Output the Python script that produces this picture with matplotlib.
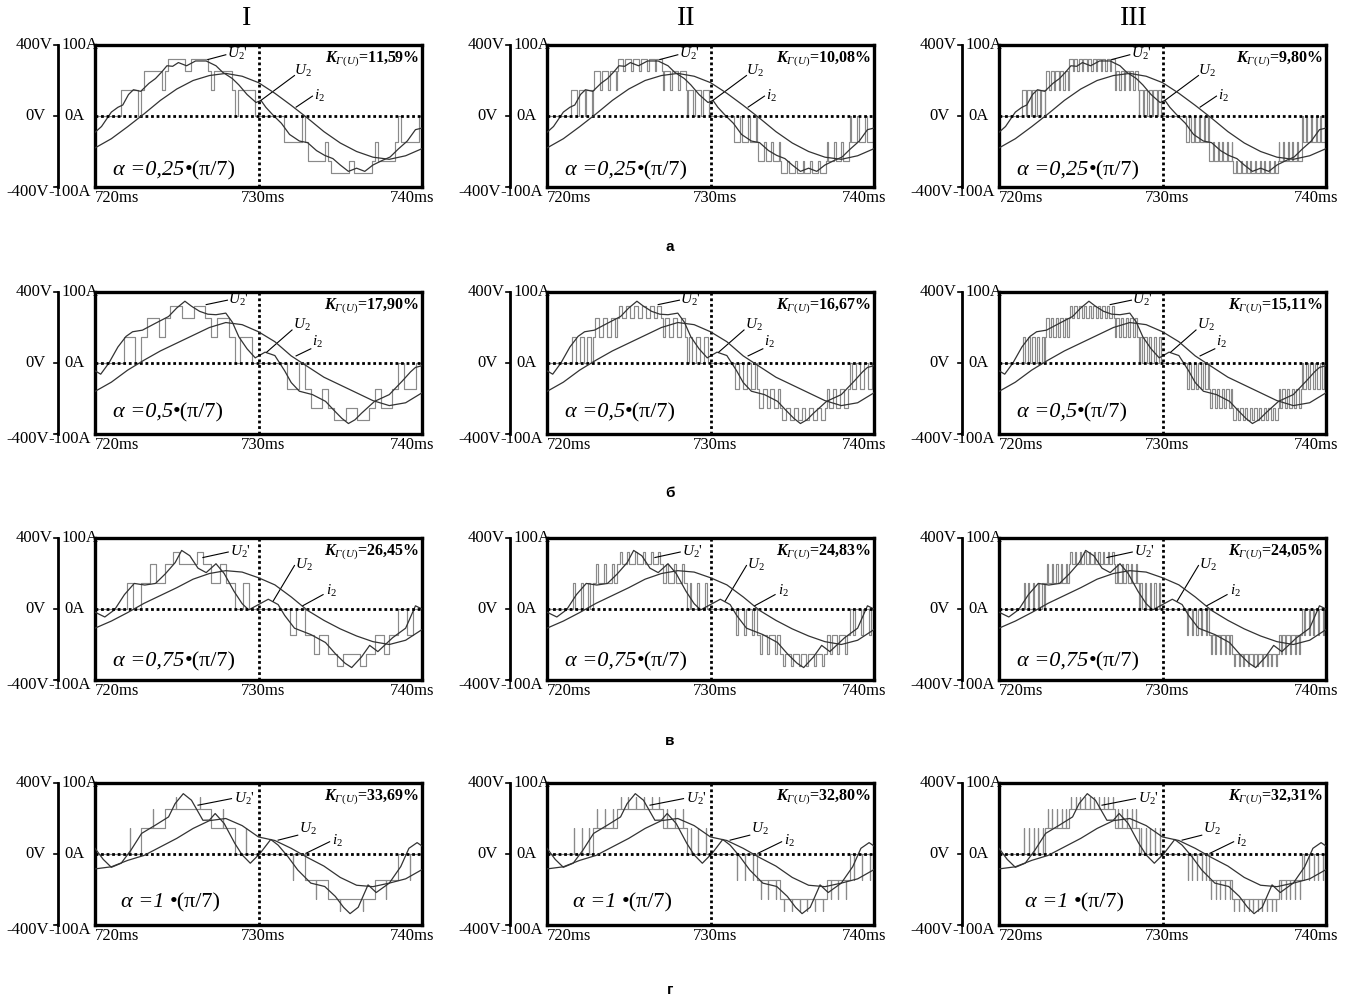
import numpy as np
import matplotlib.pyplot as plt
from matplotlib.transforms import ScaledTranslation

plt.rcParams['font.family'] = ['Liberation Serif', 'DejaVu Serif']
plt.rcParams['mathtext.fontset'] = 'custom'
plt.rcParams['mathtext.rm'] = 'Liberation Serif'
plt.rcParams['mathtext.it'] = 'Liberation Serif:italic'
plt.rcParams['mathtext.bf'] = 'Liberation Serif:bold'
plt.rcParams['mathtext.bfit'] = 'Liberation Serif:italic:bold'

W, H = 1345, 1001

# --- dane ---
col_names = ['I', 'II', 'III']
row_names = ['а', 'б', 'в', 'г']
alpha_frac = [0.25, 0.5, 0.75, 1.0]
alpha_text = ['0,25', '0,5', '0,75', '1 ']
k_text = [['11,59', '10,08', '9,80'],
          ['17,90', '16,67', '15,11'],
          ['26,45', '24,83', '24,05'],
          ['33,69', '32,80', '32,31']]
pulses_per_step = [1, 3, 5]

# poziomy napiecia stopni U2' [V]
level_v = [145, 255, 322]
step_levels = [1, 2, 3, 3, 2, 1]
pos_edges = [721.40, 722.83, 724.26, 725.69, 727.11, 728.54, 729.97]
neg_edges = [731.40, 732.83, 734.26, 735.69, 737.11, 738.54, 739.97]

u2_t = [
    [720.0, 720.4, 721.0, 721.4, 721.7, 722.05, 722.35, 722.8, 723.3, 723.7, 724.1, 724.4, 724.75,
     725.1, 725.6, 726.15, 726.8, 727.4, 727.8, 728.4, 728.8, 729.3, 729.85, 730.15, 730.45, 730.9,
     731.4, 731.9, 732.5, 733.0, 733.55, 734.05, 734.55, 735.0, 735.5, 736.0, 736.5, 737.0, 737.6,
     738.05, 738.55, 739.1, 739.6, 740.0],
    [720.0, 720.35, 720.85, 721.4, 721.9, 722.3, 722.9, 723.7, 724.5, 725.0, 725.5, 725.9, 726.4,
     726.9, 727.4, 728.0, 728.4, 728.8, 729.3, 729.8, 730.4, 731.0, 731.6, 732.0, 732.5, 733.3,
     734.1, 734.6, 735.1, 735.5, 735.9, 736.3, 737.1, 738.0, 738.8, 739.3, 739.6, 740.0],
    [720.0, 720.6, 721.2, 721.8, 722.4, 723.05, 723.7, 724.3, 724.9, 725.3, 725.8, 726.3, 726.8,
     727.4, 727.9, 728.5, 729.0, 729.4, 729.9, 730.6, 731.2, 731.6, 732.2, 733.2, 734.1, 734.7,
     735.3, 735.7, 736.3, 736.8, 737.3, 738.2, 739.0, 739.6, 740.0],
    [720.0, 720.5, 721.0, 721.6, 722.2, 722.85, 723.7, 724.5, 724.9, 725.4, 725.9, 726.6, 727.0,
     727.35, 727.9, 728.55, 729.0, 729.5, 730.1, 730.75, 731.2, 731.8, 732.4, 733.2, 734.05, 734.7,
     735.2, 735.6, 736.1, 736.7, 737.2, 738.0, 738.7, 739.2, 739.7, 740.0],
]
u2_v = [
    [-92, -59, 22, 49, 62, 121, 148, 139, 184, 211, 250, 283, 280,
     301, 283, 310, 310, 283, 247, 211, 175, 121, 76, 88, 49, 4,
     -41, -104, -141, -150, -195, -222, -240, -276, -312, -294, -312, -276, -249,
     -231, -186, -141, -77, -68],
    [-44, -63, 0, 90, 150, 176, 185, 224, 262, 310, 348, 320, 291,
     275, 272, 281, 230, 147, 80, 29, 61, 42, -44, -110, -159, -178,
     -216, -265, -312, -341, -320, -283, -216, -178, -101, -50, -25, -15],
    [-18, -45, -4, 81, 144, 135, 144, 198, 261, 330, 300, 230, 205,
     255, 200, 100, 30, -5, 20, 55, 25, -36, -108, -144, -189, -252,
     -306, -330, -270, -205, -240, -162, -108, 18, 0],
    [32, -30, -75, -52, 22, 116, 163, 209, 284, 340, 303, 190, 191,
     228, 172, 60, -5, -52, 4, 82, 50, -15, -90, -164, -183, -239,
     -300, -336, -300, -174, -217, -164, -71, 32, 64, 45],
]

# i2 [A] co 1 ms
i2_t = [720, 721, 722, 723, 724, 725, 726, 727, 728, 729, 730,
        731, 732, 733, 734, 735, 736, 737, 738, 739, 740]
i2_a = [
    [-45, -32, -15, 3, 22, 38, 50, 57, 60, 56, 47, 32, 15, -3, -22, -38, -50, -58, -61, -56, -46],
    [-40, -27, -10, 4, 17, 28, 39, 50, 57, 54, 44, 30, 10, -5, -20, -31, -42, -53, -60, -56, -42],
    [-27, -17, -5, 8, 19, 30, 42, 50, 54, 52, 44, 34, 17, -2, -16, -28, -38, -46, -50, -44, -29],
    [-21, -18, -9, -2, 10, 22, 36, 47, 50, 40, 24, 19, 8, -5, -17, -33, -44, -46, -41, -35, -22],
]

# odnosniki: (punkt na krzywej, koniec linii, pozycja napisu)
lab_u2p = [((726.9, 318), (728.0, 345), (728.05, 348)),
           ((726.8, 329), (728.1, 354), (728.15, 356)),
           ((726.6, 290), (728.15, 321), (728.25, 321)),
           ((726.3, 275), (728.35, 312), (728.5, 312))]
lab_u2 = [((730.15, 88), (732.2, 228), (732.2, 255)),
          ((730.5, 61), (732.05, 186), (732.1, 215)),
          ((730.9, 45), (732.2, 245), (732.25, 250)),
          ((731.2, 78), (732.4, 106), (732.5, 140))]
lab_i2 = [((732.3, 50), (733.3, 112), (733.4, 115)),
          ((732.3, 40), (733.2, 80), (733.3, 120)),
          ((732.7, 18), (733.95, 81), (734.1, 100)),
          ((732.9, 4), (734.35, 69), (734.5, 75))]

col_left = [95, 547, 999]
row_top = [45, 292, 538, 783]
pw, ph = 327, 142


def u2_prime(alpha, n):
    segs = [(720.0, pos_edges[0], 0.0)]
    for edges, sign, nxt in ((pos_edges, 1, neg_edges[0]), (neg_edges, -1, 740.0)):
        for k, lev in enumerate(step_levels):
            a, b = edges[k], edges[k + 1]
            hi = sign * level_v[lev - 1]
            lo = sign * level_v[lev - 2] if lev > 1 else 0.0
            p = (b - a) / n
            w = (1 - alpha) * p
            for i in range(n):
                c = a + (i + 0.5) * p
                segs += [(a + i * p, c - w / 2, lo), (c - w / 2, c + w / 2, hi),
                         (c + w / 2, a + (i + 1) * p, lo)]
        segs.append((edges[-1], nxt, 0.0))
    ts, vs = [], []
    for s, e, v in segs:
        ts += [s, e]
        vs += [v, v]
    return ts, vs


fig = plt.figure(figsize=(W / 100, H / 100), dpi=100)


def off(ax, dx, dy):
    return ax.transAxes + ScaledTranslation(dx / 100, dy / 100, fig.dpi_scale_trans)


for r in range(4):
    for c in range(3):
        x0, y0 = col_left[c], row_top[r]
        ax = fig.add_axes([x0 / W, 1 - (y0 + ph) / H, pw / W, ph / H])
        ts, vs = u2_prime(alpha_frac[r], pulses_per_step[c])
        ax.plot(ts, vs, color='#8a8a8a', lw=0.85, zorder=2)
        ax.plot(u2_t[r], u2_v[r], color='#333333', lw=0.9, zorder=3)
        ax.axhline(0, color='k', lw=2, ls=(0, (1, 1)), zorder=5)
        ax.axvline(730, color='k', lw=2, ls=(0, (1, 1)), zorder=5)

        for (pa, pb, pt), txt in ((lab_u2p[r], r"$U_2$'"),
                                  (lab_u2[r], r'$U_2$'),
                                  (lab_i2[r], r'$i_2$')):
            ax.plot([pa[0], pb[0]], [pa[1], pb[1]], color='k', lw=0.8, zorder=6)
            ax.text(pt[0], pt[1], txt, fontsize=11, ha='left', va='center', zorder=6)

        ax.set_xlim(720, 740)
        ax.set_ylim(-400, 400)
        ax.set_xticks([])
        ax.set_yticks([])
        for sp in ax.spines.values():
            sp.set_linewidth(2.4)

        ax2 = ax.twinx()
        ax2.plot(i2_t, i2_a[r], color='#333333', lw=0.9)
        ax2.set_ylim(-100, 100)
        ax2.set_xlim(720, 740)
        ax2.axis('off')

        # wspolczynnik znieksztalcen
        ax.text(1, 1, r'$\mathbfit{K}_{\mathit{Г(U)}}$=' + k_text[r][c] + '%',
                transform=off(ax, -3, -5), ha='right', va='top',
                fontsize=11.5, fontweight='bold', zorder=7)

        # kat alfa
        t1 = ax.text(0, 0, 'α =' + alpha_text[r], style='italic', fontsize=16,
                     transform=off(ax, 18 + (8 if r == 3 else 0), [7, 12, 9, 13][r]),
                     ha='left', va='bottom', zorder=7)
        ax.annotate('•(π/7)', xy=(1, 0), xycoords=t1, fontsize=16,
                    ha='left', va='bottom', zorder=7)

        # skala pionowa po lewej
        ax.plot([0, 0], [0, 1], transform=off(ax, -37, 0), color='k', lw=2, clip_on=False)
        for yy in (0, 0.5, 1):
            ax.plot([-0.012, 0], [yy, yy], transform=off(ax, -37, 0), color='k', lw=1.2, clip_on=False)
        ax.text(0, 1, '400V', transform=off(ax, -43, 0), ha='right', va='center', fontsize=12)
        ax.text(0, 1, '100A', transform=off(ax, -34, 0), ha='left', va='center', fontsize=12)
        ax.text(0, 0.5, '0V', transform=off(ax, -49, 0), ha='right', va='center', fontsize=12)
        ax.text(0, 0.5, '0A', transform=off(ax, -31, 0), ha='left', va='center', fontsize=12)
        ax.text(0, 0, '-400V', transform=off(ax, -46, -5), ha='right', va='center', fontsize=12)
        ax.text(0, 0, '-100A', transform=off(ax, -47, -5), ha='left', va='center', fontsize=12)

        # os czasu
        ax.text(0, 0, '720ms', transform=off(ax, 0, -3), ha='left', va='top', fontsize=12)
        ax.text(0.5, 0, '730ms', transform=off(ax, 5, -3), ha='center', va='top', fontsize=12)
        ax.text(1, 0, '740ms', transform=off(ax, 12, -3), ha='right', va='top', fontsize=12)

for name, xp in zip(col_names, [247, 686, 1134]):
    fig.text(xp / W, 1 - 18 / H, name, ha='center', va='center', fontsize=20)

for name, yp in zip(row_names, [247, 493, 741, 990]):
    fig.text(670 / W, 1 - yp / H, name, ha='center', va='center', fontsize=11,
             family='Liberation Sans', fontweight='bold')

fig.savefig('out.png', dpi=100)
